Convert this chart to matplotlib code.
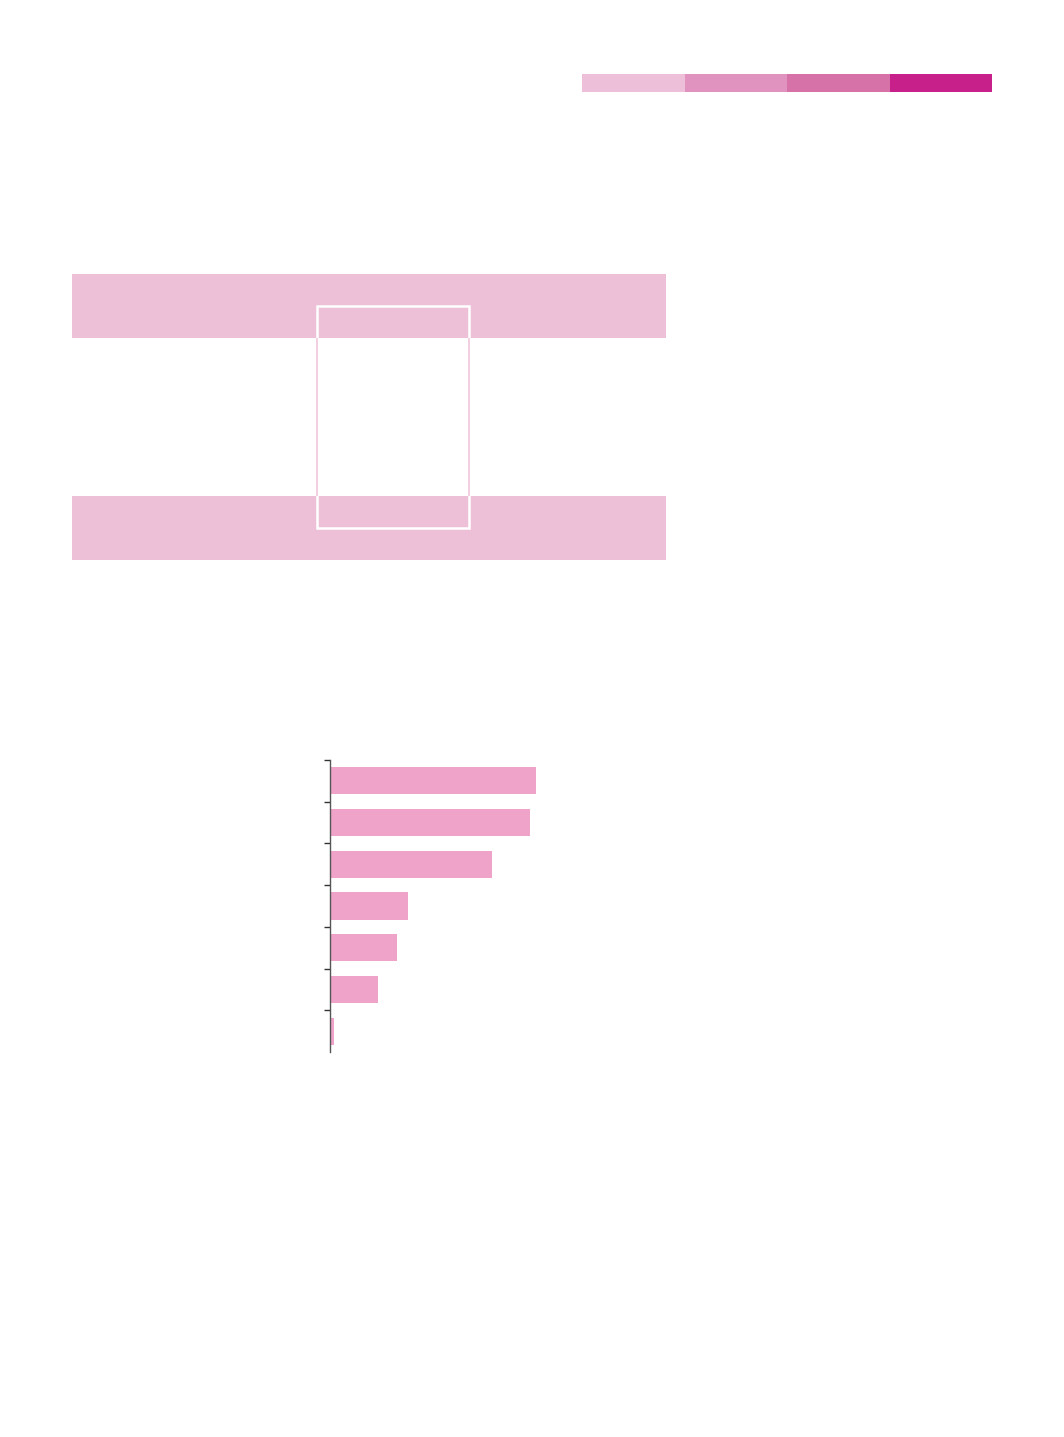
import matplotlib
matplotlib.use("Agg")
from matplotlib import pyplot as plt
from matplotlib.patches import Rectangle
import numpy as np

# data
strip_colors = ["#EEBFD9", "#E193BF", "#D672A8", "#C8208A"]
strip_parts = [1, 1, 1, 1]

bar_values = [25.8, 25.0, 20.3, 9.8, 8.4, 6.0, 0.5]
bar_color = "#F0A3C9"
band_color = "#EEC0D8"

W, H = 1064, 1437
fig = plt.figure(figsize=(W / 100, H / 100), dpi=100)
fig.set_facecolor("white")


def fig_rect(x0, y0, x1, y1):
    # pixel box (top-left origin) -> figure fraction [l, b, w, h]
    return [x0 / W, 1 - y1 / H, (x1 - x0) / W, (y1 - y0) / H]


# background layer for the decorative shapes
bg = fig.add_axes([0, 0, 1, 1])
bg.set_xlim(0, W)
bg.set_ylim(H, 0)
bg.axis("off")

box = (317, 306, 469 - 317, 528 - 306)
# thin pink outline, visible on white between the bands
bg.add_patch(Rectangle(box[:2], box[2], box[3], facecolor="none",
                       edgecolor="#F0C6DB", linewidth=1.2, zorder=1))

for y0, y1 in ((274, 338), (496, 560)):
    band = Rectangle((72, y0), 666 - 72, y1 - y0, facecolor=band_color,
                     edgecolor="none", zorder=2)
    bg.add_patch(band)
    # white outline only where it crosses the band
    wr = Rectangle(box[:2], box[2], box[3], facecolor="none",
                   edgecolor="white", linewidth=1.8, zorder=3)
    bg.add_patch(wr)
    wr.set_clip_path(band)

# colour strip top right
ax_s = fig.add_axes(fig_rect(582, 74, 992, 92))
left = np.concatenate([[0], np.cumsum(strip_parts)[:-1]])
ax_s.barh([0], strip_parts, left=left, height=1.0, color=strip_colors)
ax_s.set_xlim(0, sum(strip_parts))
ax_s.set_ylim(-0.5, 0.5)
ax_s.axis("off")

# bar chart
ax = fig.add_axes(fig_rect(330, 760, 650, 1052))
ypos = np.arange(len(bar_values))
ax.barh(ypos, bar_values, height=0.65, color=bar_color)
ax.set_xlim(0, 40)
ax.set_ylim(len(bar_values) - 0.5, -0.5)
ax.set_yticks(ypos - 0.5)
ax.set_yticklabels([])
ax.set_xticks([])
for side in ("top", "right", "bottom"):
    ax.spines[side].set_visible(False)
ax.spines["left"].set_color("#555555")
ax.spines["left"].set_linewidth(1.0)
ax.tick_params(axis="y", length=4, width=1, color="#333333", direction="out")
ax.set_facecolor("none")

fig.savefig("out.png", dpi=100, facecolor="white")
